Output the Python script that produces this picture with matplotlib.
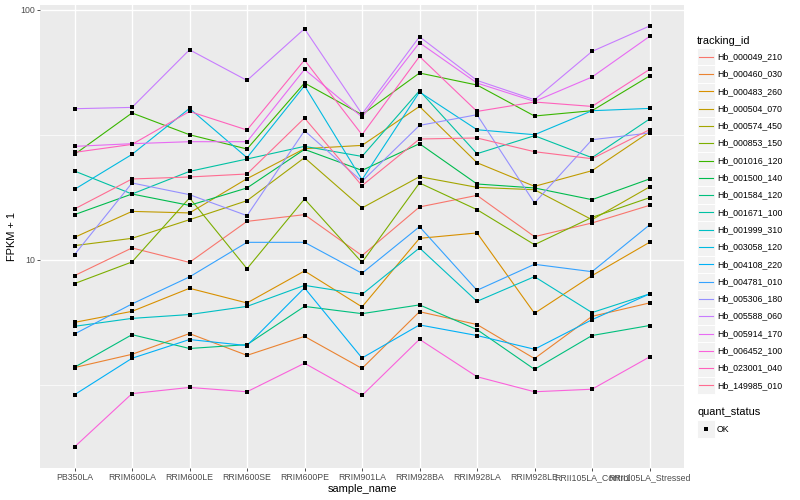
import numpy as np
import matplotlib
matplotlib.use("Agg")
import matplotlib.pyplot as plt
from matplotlib.patches import Rectangle
from matplotlib.lines import Line2D
from matplotlib.ticker import FixedLocator, NullFormatter, FixedFormatter

plt.rcParams['font.family'] = ['Liberation Sans', 'DejaVu Sans']

sample_names = ["PB350LA", "RRIM600LA", "RRIM600LE", "RRIM600SE", "RRIM600PE",
                "RRIM901LA", "RRIM928BA", "RRIM928LA", "RRIM928LE",
                "RRII105LA_Control", "RRII105LA_Stressed"]

tracking_ids = ["Hb_000049_210", "Hb_000460_030", "Hb_000483_260", "Hb_000504_070",
                "Hb_000574_450", "Hb_000853_150", "Hb_001016_120", "Hb_001500_140",
                "Hb_001584_120", "Hb_001671_100", "Hb_001999_310", "Hb_003058_120",
                "Hb_004108_220", "Hb_004781_010", "Hb_005306_180", "Hb_005588_060",
                "Hb_005914_170", "Hb_006452_100", "Hb_023001_040", "Hb_149985_010"]

# FPKM + 1 per sample (in sample_names order)
Hb_000049_210 = [8.63, 11.14, 9.75, 14.23, 15.14, 10.38, 16.25, 18.08, 12.36, 14.02, 16.49]
Hb_000460_030 = [3.70, 4.18, 5.06, 4.14, 4.93, 3.67, 6.19, 5.50, 4.02, 5.93, 6.71]
Hb_000483_260 = [5.61, 6.21, 7.68, 6.71, 9.01, 6.47, 12.17, 12.79, 6.10, 8.63, 11.73]
Hb_000504_070 = [12.28, 15.60, 15.38, 21.09, 27.80, 28.66, 41.04, 24.43, 19.65, 22.70, 32.42]
Hb_000574_450 = [11.38, 12.17, 14.45, 17.22, 25.59, 16.10, 21.48, 19.47, 19.05, 14.45, 19.54]
Hb_000853_150 = [8.02, 9.79, 17.66, 9.20, 17.49, 9.75, 20.27, 15.85, 11.48, 14.76, 17.70]
Hb_001016_120 = [26.38, 38.63, 31.62, 27.72, 50.91, 38.02, 55.83, 49.98, 37.57, 39.45, 54.30]
Hb_001500_140 = [15.14, 18.31, 16.49, 19.36, 27.62, 22.76, 29.11, 20.08, 19.36, 17.38, 21.03]
Hb_001584_120 = [3.71, 5.01, 4.41, 4.57, 6.50, 6.08, 6.59, 5.25, 3.64, 4.97, 5.45]
Hb_001671_100 = [22.63, 18.31, 22.55, 25.28, 28.40, 25.89, 47.42, 26.55, 31.33, 25.59, 36.53]
Hb_001999_310 = [5.41, 5.82, 6.03, 6.50, 7.89, 7.26, 11.14, 6.81, 8.55, 6.14, 7.29]
Hb_003058_120 = [19.11, 26.38, 40.29, 25.59, 49.66, 20.89, 46.86, 33.11, 31.62, 39.45, 40.29]
Hb_004108_220 = [2.88, 4.03, 4.79, 4.53, 7.71, 4.04, 5.48, 4.97, 4.38, 5.75, 7.29]
Hb_004781_010 = [5.04, 6.65, 8.53, 11.73, 11.73, 8.82, 13.55, 7.54, 9.58, 8.95, 13.77]
Hb_005306_180 = [10.47, 20.27, 18.20, 15.00, 32.81, 20.57, 34.45, 38.02, 16.86, 30.20, 32.12]
Hb_005588_060 = [40.18, 40.67, 69.18, 52.14, 83.95, 38.27, 77.98, 52.14, 43.65, 68.12, 86.07]
Hb_005914_170 = [28.40, 29.11, 29.65, 29.65, 57.70, 37.23, 73.79, 50.91, 42.97, 53.80, 78.20]
Hb_006452_100 = [1.78, 2.91, 3.08, 2.96, 3.85, 2.86, 4.80, 3.40, 2.96, 3.03, 4.08]
Hb_023001_040 = [26.87, 28.92, 39.19, 33.02, 62.92, 31.62, 65.04, 39.19, 42.74, 41.04, 57.70]
Hb_149985_010 = [15.95, 21.03, 21.42, 22.02, 36.87, 19.77, 30.40, 30.68, 27.04, 25.35, 33.11]

quant_status = ["OK"]

fpkm_plus_1 = {
    "Hb_000049_210": Hb_000049_210, "Hb_000460_030": Hb_000460_030,
    "Hb_000483_260": Hb_000483_260, "Hb_000504_070": Hb_000504_070,
    "Hb_000574_450": Hb_000574_450, "Hb_000853_150": Hb_000853_150,
    "Hb_001016_120": Hb_001016_120, "Hb_001500_140": Hb_001500_140,
    "Hb_001584_120": Hb_001584_120, "Hb_001671_100": Hb_001671_100,
    "Hb_001999_310": Hb_001999_310, "Hb_003058_120": Hb_003058_120,
    "Hb_004108_220": Hb_004108_220, "Hb_004781_010": Hb_004781_010,
    "Hb_005306_180": Hb_005306_180, "Hb_005588_060": Hb_005588_060,
    "Hb_005914_170": Hb_005914_170, "Hb_006452_100": Hb_006452_100,
    "Hb_023001_040": Hb_023001_040, "Hb_149985_010": Hb_149985_010,
}

palette = ["#F8766D", "#EA8331", "#D89000", "#C09B00", "#A3A500", "#7CAE00",
           "#39B600", "#00BB4E", "#00BF7D", "#00C1A3", "#00BFC4", "#00BAE0",
           "#00B0F6", "#35A2FF", "#9590FF", "#C77CFF", "#E76BF3", "#FA62DB",
           "#FF62BC", "#FF6C91"]

fig = plt.figure(figsize=(8, 5), dpi=100)
ax = fig.add_axes([40 / 800, 32 / 500, 644 / 800, 463 / 500])
ax.set_facecolor('#EBEBEB')
for s in ax.spines.values():
    s.set_visible(False)

x = np.arange(len(sample_names))
for tid, col in zip(tracking_ids, palette):
    ax.plot(x, fpkm_plus_1[tid], color=col, lw=0.8, zorder=3)
for tid in tracking_ids:
    ax.plot(x, fpkm_plus_1[tid], ls='none', marker='s', ms=2.7, color='black',
            mew=0, zorder=4)

ax.set_yscale('log')
allv = np.concatenate([np.asarray(fpkm_plus_1[t]) for t in tracking_ids])
lo, hi = np.log10(allv.min()), np.log10(allv.max())
pad = 0.05 * (hi - lo)
ax.set_ylim(10 ** (lo - pad), 10 ** (hi + pad))
ax.set_xlim(-0.6, len(sample_names) - 1 + 0.6)

ax.yaxis.set_major_locator(FixedLocator([10, 100]))
ax.yaxis.set_major_formatter(FixedFormatter(['10', '100']))
ax.yaxis.set_minor_locator(FixedLocator([10 ** 0.5, 10 ** 1.5]))
ax.yaxis.set_minor_formatter(NullFormatter())
ax.set_xticks(x)
ax.set_xticklabels(sample_names)

ax.grid(which='major', color='white', lw=1.0)
ax.grid(which='minor', axis='y', color='white', lw=0.5)
ax.set_axisbelow(True)
ax.tick_params(which='major', length=2.0, width=0.6, color='#333333',
               labelsize=6.34, labelcolor='#4D4D4D', pad=1.6)
ax.tick_params(which='minor', length=0)

ax.set_xlabel('sample_name', fontsize=7.92, va='center')
ax.xaxis.set_label_coords(0.5, (468 - 488.5) / 463)
ax.set_ylabel('FPKM + 1', fontsize=7.92, va='center')
ax.yaxis.set_label_coords((12 - 40) / 644, 0.5)

# legend drawn in pixel coordinates
lax = fig.add_axes([0, 0, 1, 1], zorder=5)
lax.set_xlim(0, 800)
lax.set_ylim(500, 0)
lax.axis('off')

lax.text(697, 40.7, 'tracking_id', fontsize=7.92, ha='left', va='center')
key = 17.3
for i, (tid, col) in enumerate(zip(tracking_ids, palette)):
    yc = 56.7 + key * i
    lax.add_patch(Rectangle((697.3, yc - key / 2), key, key, fc='#F2F2F2',
                            ec='white', lw=0.7))
    lax.add_line(Line2D([698.8, 713.1], [yc, yc], color=col, lw=0.8))
    lax.text(717.0, yc, tid, fontsize=6.34, ha='left', va='center')

lax.text(697, 412.3, 'quant_status', fontsize=7.92, ha='left', va='center')
for j, q in enumerate(quant_status):
    yc = 429 + key * j
    lax.add_patch(Rectangle((697.3, yc - key / 2), key, key, fc='#F2F2F2',
                            ec='white', lw=0.7))
    lax.plot([697.3 + key / 2], [yc], marker='s', ms=2.7, color='black', mew=0)
    lax.text(717.0, yc, q, fontsize=6.34, ha='left', va='center')

fig.savefig('out.png', dpi=100)
